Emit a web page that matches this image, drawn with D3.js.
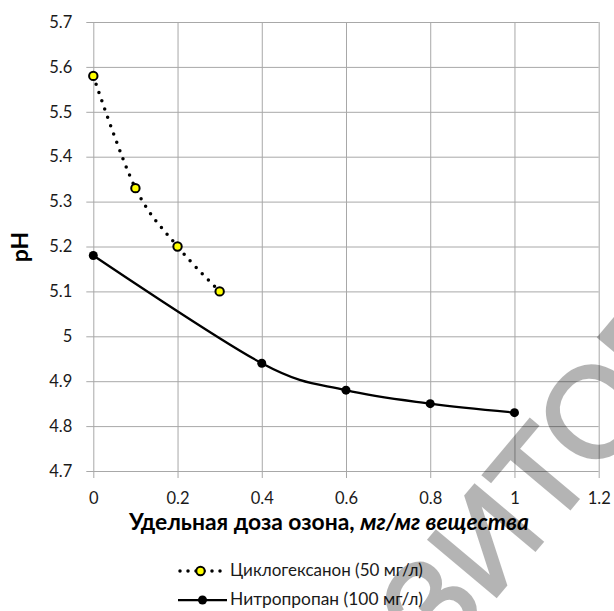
<!DOCTYPE html>
<html>
<head>
<meta charset="utf-8">
<script src="https://cdn.jsdelivr.net/npm/d3@7"></script>
<style>
  html, body { margin: 0; padding: 0; background: #fff; }
  svg { display: block; }
</style>
</head>
<body>
<svg id="chart" width="614" height="611"></svg>
<script>
// Ozone dose (mg per mg of substance) vs. pH
const cycloDose = [0, 0.1, 0.2, 0.3];
const cycloPH   = [5.58, 5.33, 5.20, 5.10];
const nitroDose = [0, 0.4, 0.6, 0.8, 1.0];
const nitroPH   = [5.18, 4.94, 4.88, 4.85, 4.83];

const xTickValues = [0, 0.2, 0.4, 0.6, 0.8, 1.0, 1.2];
const yTickValues = [4.7, 4.8, 4.9, 5.0, 5.1, 5.2, 5.3, 5.4, 5.5, 5.6, 5.7];

const seriesNames = ["Циклогексанон (50 мг/л)", "Нитропропан (100 мг/л)"];
const xTitleMain = "Удельная доза озона, ";
const xTitleUnit = "мг/мг вещества";
const yTitle = "pH";
const watermarkText = "РЕПОЗИТОРИЙ";

const FONT = "Lato, 'Open Sans', sans-serif";
const GRID = "#a8a8a8";

const svg = d3.select("#chart");
const plotL = 93.3, plotR = 598.7, plotT = 22, plotB = 471;

const x = d3.scaleLinear().domain([0, 1.2]).range([plotL, plotR]);
const y = d3.scaleLinear().domain([4.7, 5.7]).range([plotB, plotT]);
const fmt = d => String(+d.toFixed(1));

// Vertical gridlines + x tick labels
const gx = svg.append("g")
  .attr("transform", `translate(0,${plotB})`)
  .call(d3.axisBottom(x).tickValues(xTickValues).tickFormat(fmt)
    .tickSizeInner(-(plotB - plotT)).tickSizeOuter(0).tickPadding(21));
gx.select(".domain").remove();
gx.selectAll(".tick line").attr("y1", 7).attr("stroke", GRID);
gx.selectAll(".tick text").attr("font-family", FONT).attr("font-size", 16.5).attr("fill", "#1a1a1a");

// Horizontal gridlines + y tick labels
const gy = svg.append("g")
  .attr("transform", `translate(${plotL},0)`)
  .call(d3.axisLeft(y).tickValues(yTickValues).tickFormat(fmt)
    .tickSizeInner(-(plotR - plotL)).tickSizeOuter(0).tickPadding(21));
gy.select(".domain").remove();
gy.selectAll(".tick line").attr("x1", -7).attr("stroke", GRID);
gy.selectAll(".tick text").attr("font-family", FONT).attr("font-size", 16.5).attr("fill", "#1a1a1a");

// Smoothed series lines
const line = d3.line().curve(d3.curveCardinal.tension(0))
  .x(d => x(d[0])).y(d => y(d[1]));

const nitro = nitroDose.map((d, i) => [d, nitroPH[i]]);
const cyclo = cycloDose.map((d, i) => [d, cycloPH[i]]);

svg.append("path").datum(nitro).attr("d", line)
  .attr("fill", "none").attr("stroke", "#000").attr("stroke-width", 2.25);
svg.append("g").selectAll("circle").data(nitro).join("circle")
  .attr("cx", d => x(d[0])).attr("cy", d => y(d[1])).attr("r", 4.5).attr("fill", "#000");

svg.append("path").datum(cyclo).attr("d", line)
  .attr("fill", "none").attr("stroke", "#000").attr("stroke-width", 3.5)
  .attr("stroke-linecap", "round").attr("stroke-dasharray", "0 8.8");
svg.append("g").selectAll("circle").data(cyclo).join("circle")
  .attr("cx", d => x(d[0])).attr("cy", d => y(d[1])).attr("r", 4.2)
  .attr("fill", "#ffff00").attr("stroke", "#000").attr("stroke-width", 2);

// Helper: scale a text's font so it spans a target width
function fitWidth(sel, target) {
  const fs = parseFloat(sel.attr("font-size"));
  const w = sel.node().getComputedTextLength();
  sel.attr("font-size", fs * target / w);
}

// Axis titles
const xt = svg.append("text")
  .attr("x", 329).attr("y", 530).attr("text-anchor", "middle")
  .attr("font-family", FONT).attr("font-size", 19).attr("font-weight", "bold").attr("fill", "#000");
xt.append("tspan").text(xTitleMain);
xt.append("tspan").attr("font-style", "italic").text(xTitleUnit);
fitWidth(xt, 400);

svg.append("text")
  .attr("transform", "translate(27.5,247) rotate(-90)")
  .attr("text-anchor", "middle")
  .attr("font-family", FONT).attr("font-size", 23).attr("font-weight", "bold").attr("fill", "#000")
  .text(yTitle);

// Legend
const lg = svg.append("g");
const lgY = [571, 600];
lg.append("line").attr("x1", 180).attr("x2", 221).attr("y1", lgY[0]).attr("y2", lgY[0])
  .attr("stroke", "#000").attr("stroke-width", 3.5).attr("stroke-linecap", "round")
  .attr("stroke-dasharray", "0 8");
lg.append("circle").attr("cx", 200.5).attr("cy", lgY[0]).attr("r", 4.2)
  .attr("fill", "#ffff00").attr("stroke", "#000").attr("stroke-width", 2);
lg.append("line").attr("x1", 178).attr("x2", 227).attr("y1", lgY[1]).attr("y2", lgY[1])
  .attr("stroke", "#000").attr("stroke-width", 2.25);
lg.append("circle").attr("cx", 202.5).attr("cy", lgY[1]).attr("r", 4.5).attr("fill", "#000");
seriesNames.forEach((name, i) => {
  const t = lg.append("text").attr("x", 230).attr("y", lgY[i] + 5)
    .attr("font-family", FONT).attr("font-size", 14.5).attr("fill", "#1a1a1a").text(name);
  fitWidth(t, 193);
});

// Translucent diagonal watermark
const wm = svg.append("g").attr("opacity", 0.29);
const wfs = 128;
const wt = wm.append("text").attr("x", 0).attr("y", 0)
  .attr("font-family", "'Liberation Sans', Arial, sans-serif").attr("font-size", wfs)
  .attr("fill", "#000").attr("stroke", "#000").attr("stroke-width", 3)
  .text(watermarkText);
const ext = wt.node().getExtentOfChar(6);
const tcx = ext.x + ext.width / 2, cap = 0.716 * wfs;
const th = -50 * Math.PI / 180;
const px = 502, py = 447;
const rx = tcx * Math.cos(th) + cap * Math.sin(th);
const ry = tcx * Math.sin(th) - cap * Math.cos(th);
wm.attr("transform", `translate(${px - rx},${py - ry}) rotate(-50)`);
</script>
</body>
</html>
